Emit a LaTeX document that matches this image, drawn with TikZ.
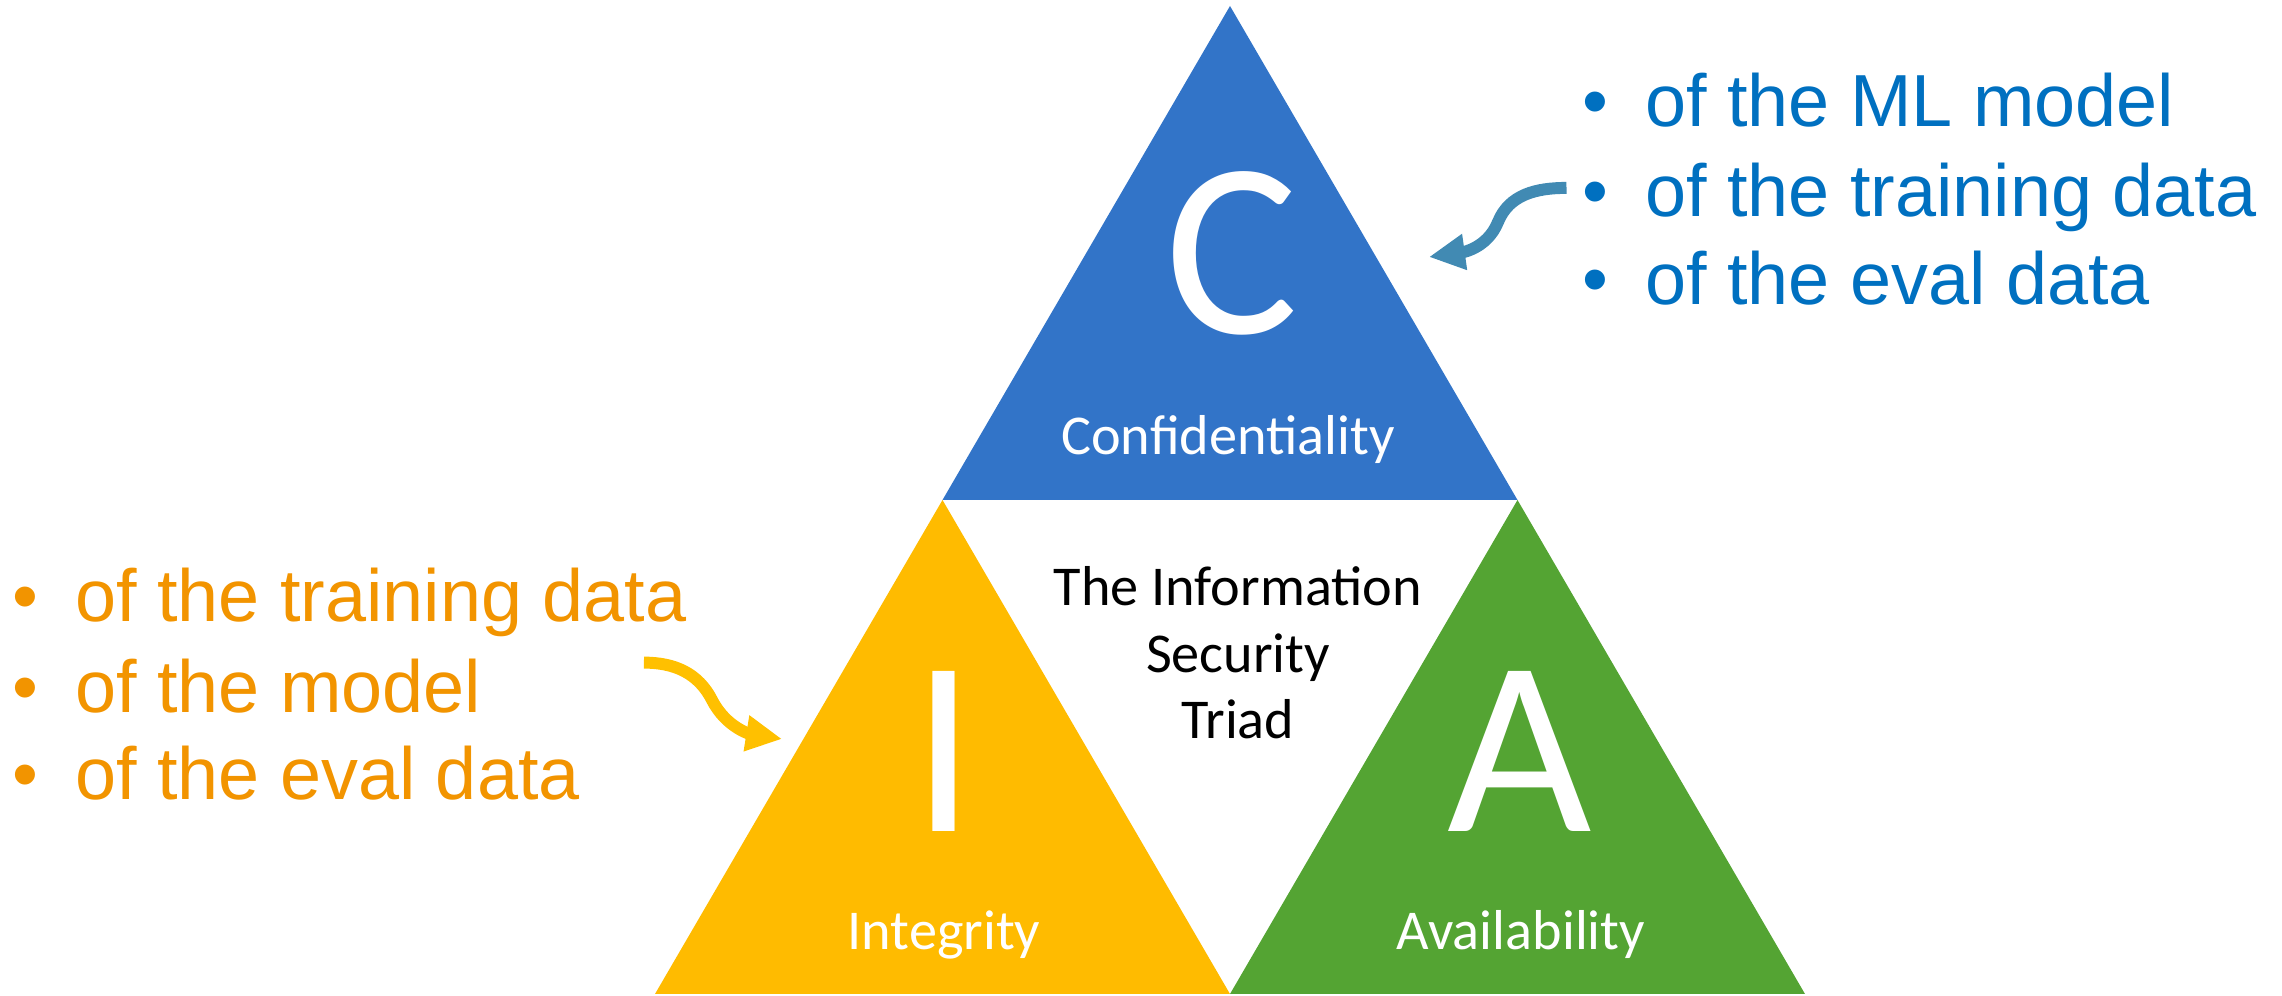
\documentclass[tikz,border=0pt]{standalone}
\usepackage{tikz}
\usetikzlibrary{arrows, arrows.meta}
\usetikzlibrary{positioning}
\usepackage{xcolor}
\usepackage{fontspec}
\setmainfont{Carlito}
\newfontfamily\listfont{Liberation Sans}

\definecolor{confblue}{RGB}{50,116,200}
\definecolor{integyellow}{RGB}{255,187,0}
\definecolor{availgreen}{RGB}{84,164,51}
\definecolor{listblue}{RGB}{0,112,192}
\definecolor{listorange}{RGB}{242,148,0}
\definecolor{arrowblue}{RGB}{65,138,179}
\definecolor{arrowyellow}{RGB}{255,192,0}

\begin{document}
\begin{tikzpicture}[
  bigletter/.style={white, inner sep=0, anchor=base, font=\fontsize{71}{75}\selectfont},
  tname/.style={white, inner sep=0, anchor=base, font=\fontsize{16}{19}\selectfont},
  listitem/.style={anchor=base west, inner xsep=0.15cm, inner ysep=0, font=\listfont\fontsize{21}{25}\selectfont},
  bendarrow/.style={line width=3.4pt, -{Triangle[length=0.36cm,width=0.34cm]}}
]
\useasboundingbox (0,0) rectangle (22.82,9.96);

%triad
\coordinate (T) at (12.30,9.90);
\coordinate (BL) at (6.55,0.02);
\coordinate (BR) at (18.05,0.02);
\coordinate (BM) at (12.30,0.02);
\coordinate (ML) at (9.425,4.96);
\coordinate (MR) at (15.175,4.96);

\fill[confblue] (T) -- (ML) -- (MR) -- cycle;
\fill[integyellow] (ML) -- (BL) -- (BM) -- cycle;
\fill[availgreen] (MR) -- (BM) -- (BR) -- cycle;

%letters
\node[bigletter] (cbig) at (12.32,6.62) {C};
\node[bigletter] (ibig) at (9.44,1.64) {I};
\node[bigletter] (abig) at (15.20,1.64) {A};

\node[tname] (cname) at (12.28,5.41) {Confidentiality};
\node[tname] (iname) at (9.44,0.46) {Integrity};
\node[tname] (aname) at (15.21,0.46) {Availability};

\node[black, inner sep=0, anchor=base, align=center, font=\fontsize{16}{19}\selectfont] (triad) at (12.38,2.57) {The Information\\Security\\Triad};

%lists
\node[listitem, listblue] (c1) at (15.665,8.69) {•\hspace{0.37cm}of the ML model};
\node[listitem, listblue] (c2) at (15.665,7.79) {•\hspace{0.37cm}of the training data};
\node[listitem, listblue] (c3) at (15.665,6.91) {•\hspace{0.37cm}of the eval data};

\node[listitem, listorange] (i1) at (-0.035,3.74) {•\hspace{0.37cm}of the training data};
\node[listitem, listorange] (i2) at (-0.035,2.83) {•\hspace{0.37cm}of the model};
\node[listitem, listorange] (i3) at (-0.035,1.96) {•\hspace{0.37cm}of the eval data};

%arrows
\coordinate (cbend) at (14.98,7.74);
\coordinate (ctip) at (14.29,7.39);
\draw[bendarrow, arrowblue] ([yshift=0.1cm]c2.west) to[out=180,in=68] (cbend) to[out=248,in=8] (ctip);

\coordinate (ibend) at (7.12,2.96);
\coordinate (itip) at (7.82,2.57);
\draw[bendarrow, arrowyellow] ([xshift=1.47cm,yshift=0.24cm]i2.east) to[out=0,in=117] (ibend) to[out=-63,in=171] (itip);

\end{tikzpicture}
\end{document}
